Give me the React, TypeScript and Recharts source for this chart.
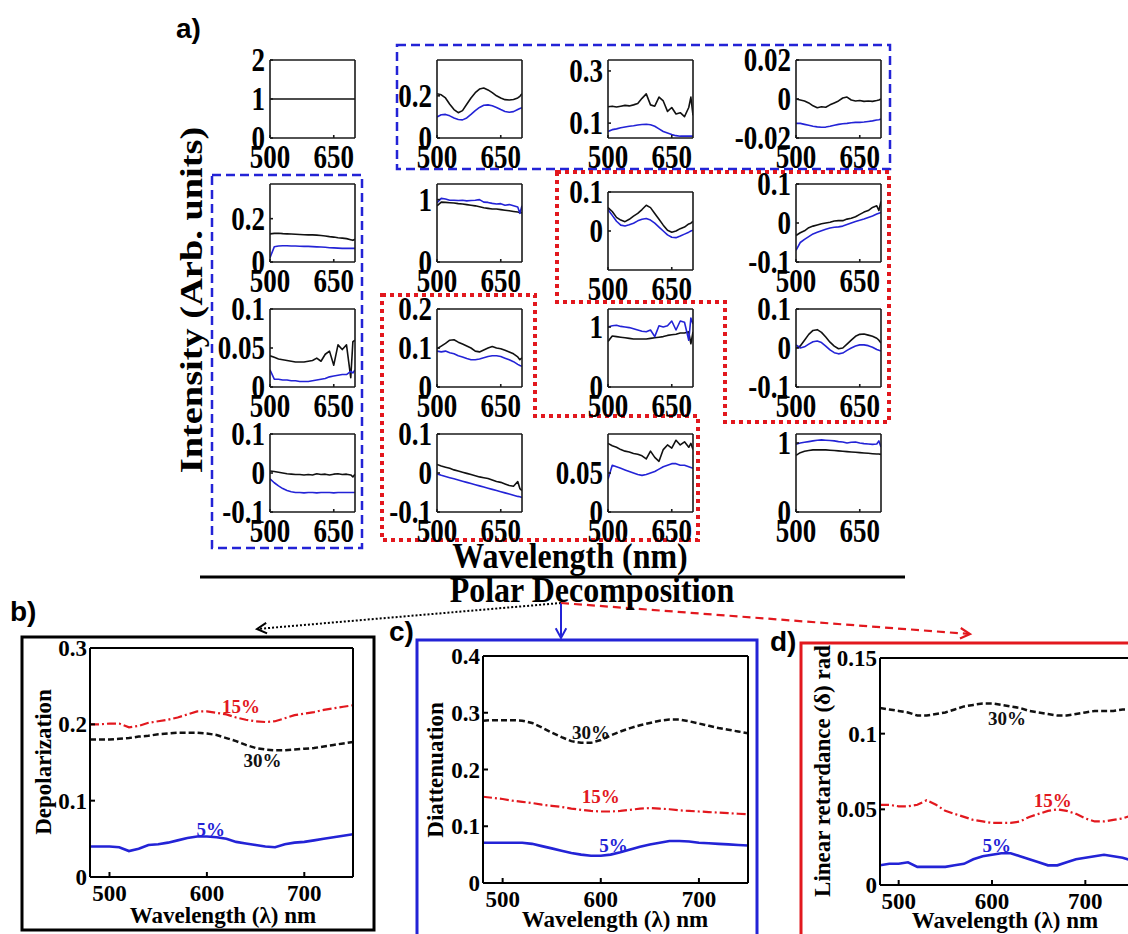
import React from 'react';
import { LineChart, Line, XAxis, YAxis, ReferenceDot } from 'recharts';

const SERIF = '"Liberation Serif", "Times New Roman", serif';
const SANS = '"Liberation Sans", Arial, sans-serif';
const INK = '#111';
const BLUE = '#2323d6';
const RED = '#e2181e';

// ---- panel a) Mueller matrix elements vs wavelength (K = black trace, B = blue trace) ----
const WL_A = [500, 510, 520, 530, 540, 550, 560, 570, 580, 590, 600, 610, 620, 630, 640, 650, 660, 670, 680, 690, 695, 700];
const TICKS_A_X = [500, 650];

const M11_K = [1, 1, 1, 1, 1, 1, 1, 1, 1, 1, 1, 1, 1, 1, 1, 1, 1, 1, 1, 1, 1, 1];
const M12_K = [0.21, 0.205, 0.19, 0.16, 0.135, 0.12, 0.13, 0.16, 0.19, 0.215, 0.232, 0.237, 0.228, 0.215, 0.2, 0.19, 0.182, 0.18, 0.183, 0.19, 0.198, 0.21];
const M12_B = [0.1, 0.11, 0.112, 0.105, 0.095, 0.088, 0.086, 0.095, 0.112, 0.13, 0.145, 0.155, 0.157, 0.153, 0.145, 0.135, 0.126, 0.122, 0.125, 0.135, 0.14, 0.144];
const M13_K = [0.163, 0.165, 0.162, 0.165, 0.168, 0.166, 0.17, 0.175, 0.195, 0.212, 0.17, 0.165, 0.2, 0.185, 0.145, 0.16, 0.135, 0.14, 0.125, 0.16, 0.2, 0.13];
const M13_B = [0.068, 0.075, 0.078, 0.082, 0.085, 0.088, 0.09, 0.093, 0.095, 0.096, 0.094, 0.088, 0.078, 0.068, 0.062, 0.056, 0.052, 0.05, 0.05, 0.05, 0.05, 0.05];
const M14_K = [0, -0.0005, -0.001, -0.002, -0.0035, -0.0045, -0.004, -0.0042, -0.003, -0.002, -0.001, 0.0005, 0.001, -0.0005, -0.001, -0.0008, -0.0012, -0.001, -0.0012, -0.0008, -0.0005, 0];
const M14_B = [-0.0125, -0.0125, -0.013, -0.0135, -0.014, -0.0143, -0.0145, -0.0144, -0.014, -0.0135, -0.013, -0.0127, -0.0125, -0.0122, -0.012, -0.012, -0.0118, -0.0115, -0.0112, -0.0108, -0.0106, -0.0103];

const M21_K = [0.13, 0.132, 0.133, 0.131, 0.13, 0.129, 0.128, 0.127, 0.126, 0.125, 0.125, 0.124, 0.122, 0.12, 0.117, 0.115, 0.112, 0.11, 0.108, 0.103, 0.1, 0.105];
const M21_B = [0.02, 0.07, 0.074, 0.075, 0.075, 0.074, 0.074, 0.073, 0.072, 0.072, 0.071, 0.07, 0.069, 0.068, 0.066, 0.065, 0.064, 0.063, 0.063, 0.063, 0.063, 0.063];
const M22_K = [0.9, 0.96, 0.955, 0.95, 0.945, 0.935, 0.93, 0.92, 0.91, 0.9, 0.885, 0.87, 0.86, 0.85, 0.85, 0.84, 0.83, 0.82, 0.81, 0.8, 0.79, 0.79];
const M22_B = [0.95, 1.02, 1.01, 0.99, 0.99, 0.985, 0.99, 0.98, 0.985, 0.99, 1.0, 0.96, 0.955, 0.94, 0.93, 0.935, 0.91, 0.92, 0.9, 0.88, 0.78, 0.9];
const M23_K = [0.06, 0.05, 0.035, 0.028, 0.024, 0.03, 0.038, 0.045, 0.055, 0.066, 0.06, 0.045, 0.03, 0.015, 0.002, -0.003, 0, 0.006, 0.01, 0.018, 0.02, 0.025];
const M23_B = [0.055, 0.04, 0.025, 0.015, 0.013, 0.016, 0.02, 0.026, 0.03, 0.032, 0.028, 0.02, 0.01, 0, -0.01, -0.016, -0.017, -0.013, -0.008, -0.003, 0, 0.002];
const M24_K = [-0.032, -0.025, -0.02, -0.012, -0.008, -0.005, -0.002, 0, 0.002, 0.005, 0.006, 0.006, 0.01, 0.012, 0.016, 0.022, 0.028, 0.032, 0.04, 0.044, 0.032, 0.055];
const M24_B = [-0.07, -0.05, -0.042, -0.035, -0.028, -0.024, -0.02, -0.016, -0.013, -0.011, -0.01, -0.008, -0.004, 0, 0.004, 0.007, 0.01, 0.014, 0.018, 0.023, 0.025, 0.027];

const M31_K = [0.04, 0.038, 0.036, 0.035, 0.034, 0.033, 0.032, 0.032, 0.032, 0.033, 0.034, 0.037, 0.033, 0.042, 0.046, 0.028, 0.054, 0.048, 0.054, 0.012, 0.058, 0.06];
const M31_B = [0.022, 0.01, 0.01, 0.009, 0.009, 0.008, 0.008, 0.007, 0.007, 0.007, 0.008, 0.009, 0.01, 0.011, 0.013, 0.014, 0.015, 0.016, 0.016, 0.02, 0.018, 0.022];
const M32_K = [0.098, 0.105, 0.112, 0.12, 0.121, 0.115, 0.11, 0.105, 0.1, 0.092, 0.09, 0.095, 0.1, 0.104, 0.1, 0.098, 0.094, 0.09, 0.085, 0.077, 0.07, 0.075];
const M32_B = [0.092, 0.09, 0.092, 0.088, 0.085, 0.08, 0.077, 0.073, 0.07, 0.07, 0.072, 0.075, 0.078, 0.08, 0.08, 0.078, 0.074, 0.07, 0.065, 0.058, 0.055, 0.053];
const M33_K = [0.76, 0.85, 0.84, 0.83, 0.82, 0.81, 0.8, 0.8, 0.8, 0.8, 0.81, 0.82, 0.83, 0.84, 0.86, 0.87, 0.88, 0.9, 0.9, 0.92, 0.72, 0.92];
const M33_B = [1.0, 1.02, 1.03, 1.01, 1.0, 0.99, 0.97, 0.95, 0.93, 0.92, 0.95, 0.84, 1.02, 1.0, 1.02, 1.1, 0.95, 1.1, 1.08, 0.78, 1.15, 1.05];
const M34_K = [0, 0.005, 0.02, 0.035, 0.045, 0.047, 0.04, 0.028, 0.015, 0.005, -0.002, 0, 0.01, 0.02, 0.03, 0.035, 0.036, 0.033, 0.03, 0.025, 0.02, 0.013];
const M34_B = [0.008, 0, 0.003, 0.01, 0.016, 0.018, 0.014, 0.005, -0.005, -0.012, -0.015, -0.013, -0.006, 0, 0.005, 0.008, 0.008, 0.006, 0.002, -0.004, -0.006, -0.008];

const M41_K = [0.005, 0.004, 0.002, 0, -0.002, -0.003, -0.004, -0.004, -0.005, -0.004, -0.005, -0.002, -0.004, -0.003, -0.005, -0.003, -0.002, -0.004, -0.003, -0.005, -0.01, -0.003];
const M41_B = [-0.015, -0.025, -0.033, -0.04, -0.045, -0.048, -0.05, -0.05, -0.051, -0.05, -0.05, -0.051, -0.05, -0.05, -0.05, -0.051, -0.05, -0.05, -0.05, -0.05, -0.05, -0.05];
const M42_K = [0.022, 0.018, 0.015, 0.012, 0.008, 0.005, 0.002, -0.001, -0.004, -0.007, -0.01, -0.012, -0.014, -0.018, -0.022, -0.024, -0.028, -0.032, -0.034, -0.022, -0.04, -0.045];
const M42_B = [-0.002, -0.006, -0.009, -0.012, -0.015, -0.018, -0.021, -0.024, -0.027, -0.03, -0.033, -0.036, -0.039, -0.042, -0.045, -0.048, -0.051, -0.054, -0.057, -0.06, -0.061, -0.063];
const M43_K = [0.088, 0.085, 0.083, 0.08, 0.078, 0.077, 0.075, 0.074, 0.072, 0.068, 0.078, 0.07, 0.065, 0.08, 0.086, 0.082, 0.092, 0.086, 0.09, 0.083, 0.088, 0.08];
const M43_B = [0.042, 0.06, 0.058, 0.056, 0.054, 0.052, 0.05, 0.048, 0.047, 0.048, 0.05, 0.052, 0.055, 0.058, 0.06, 0.062, 0.062, 0.06, 0.06, 0.058, 0.057, 0.056];
const M44_K = [0.82, 0.86, 0.88, 0.89, 0.9, 0.9, 0.9, 0.9, 0.895, 0.89, 0.885, 0.88, 0.875, 0.87, 0.865, 0.86, 0.855, 0.85, 0.845, 0.84, 0.84, 0.835];
const M44_B = [0.98, 1.0, 1.01, 1.02, 1.03, 1.04, 1.045, 1.04, 1.035, 1.03, 1.02, 1.015, 1.0, 1.01, 1.015, 1.0, 0.99, 0.985, 0.98, 0.985, 1.03, 0.94];

// ---- panels b) c) d): polar decomposition for 5 / 15 / 30 % ----
const WL_B = [480, 490, 500, 510, 520, 530, 540, 550, 560, 570, 580, 590, 600, 610, 620, 630, 640, 650, 660, 670, 680, 690, 700, 710, 720, 730, 740, 750];
const TICKS_B_X = [500, 600, 700];

const DEP_30 = [0.18, 0.18, 0.18, 0.181, 0.182, 0.184, 0.185, 0.187, 0.188, 0.189, 0.189, 0.189, 0.188, 0.186, 0.182, 0.178, 0.173, 0.169, 0.167, 0.166, 0.166, 0.167, 0.168, 0.169, 0.171, 0.173, 0.175, 0.177];
const DEP_15 = [0.2, 0.2, 0.201, 0.201, 0.196, 0.198, 0.202, 0.204, 0.206, 0.209, 0.213, 0.217, 0.217, 0.215, 0.213, 0.209, 0.206, 0.204, 0.203, 0.204, 0.208, 0.212, 0.214, 0.216, 0.219, 0.221, 0.223, 0.225];
const DEP_5 = [0.04, 0.04, 0.04, 0.039, 0.034, 0.037, 0.042, 0.043, 0.045, 0.048, 0.051, 0.053, 0.053, 0.052, 0.05, 0.046, 0.044, 0.042, 0.04, 0.039, 0.043, 0.045, 0.046, 0.048, 0.05, 0.052, 0.054, 0.056];

const DIA_30 = [0.286, 0.287, 0.287, 0.287, 0.286, 0.282, 0.274, 0.265, 0.257, 0.25, 0.247, 0.247, 0.252, 0.26, 0.267, 0.273, 0.278, 0.282, 0.286, 0.288, 0.288, 0.285, 0.281, 0.277, 0.273, 0.27, 0.267, 0.264];
const DIA_15 = [0.152, 0.15, 0.148, 0.145, 0.143, 0.141, 0.138, 0.136, 0.134, 0.131, 0.129, 0.127, 0.126, 0.126, 0.127, 0.129, 0.131, 0.132, 0.131, 0.13, 0.128, 0.127, 0.126, 0.125, 0.124, 0.123, 0.122, 0.121];
const DIA_5 = [0.071, 0.071, 0.071, 0.071, 0.071, 0.069, 0.065, 0.061, 0.057, 0.053, 0.05, 0.048, 0.048, 0.05, 0.054, 0.059, 0.064, 0.068, 0.071, 0.074, 0.074, 0.073, 0.071, 0.07, 0.069, 0.068, 0.067, 0.066];

const RET_30 = [0.117, 0.116, 0.115, 0.114, 0.112, 0.112, 0.113, 0.114, 0.116, 0.118, 0.119, 0.12, 0.12, 0.119, 0.118, 0.117, 0.115, 0.114, 0.113, 0.112, 0.112, 0.113, 0.114, 0.115, 0.115, 0.115, 0.116, 0.116];
const RET_15 = [0.053, 0.053, 0.052, 0.052, 0.053, 0.056, 0.053, 0.049, 0.047, 0.045, 0.043, 0.042, 0.041, 0.041, 0.041, 0.042, 0.045, 0.047, 0.049, 0.05, 0.049, 0.047, 0.044, 0.042, 0.042, 0.043, 0.044, 0.046];
const RET_5 = [0.013, 0.014, 0.014, 0.015, 0.012, 0.012, 0.012, 0.012, 0.013, 0.014, 0.017, 0.019, 0.02, 0.021, 0.021, 0.019, 0.017, 0.015, 0.013, 0.013, 0.015, 0.017, 0.018, 0.019, 0.02, 0.019, 0.018, 0.016];

// grid of small plots: [black, blue, y domain, y ticks]
const GRID: [number[], number[] | null, [number, number], number[]][][] = [
  [
    [M11_K, null, [0, 2], [0, 1, 2]],
    [M12_K, M12_B, [0, 0.37], [0, 0.2]],
    [M13_K, M13_B, [0.043, 0.342], [0.1, 0.3]],
    [M14_K, M14_B, [-0.02, 0.02], [-0.02, 0, 0.02]],
  ],
  [
    [M21_K, M21_B, [0, 0.36], [0, 0.2]],
    [M22_K, M22_B, [0, 1.25], [0, 1]],
    [M23_K, M23_B, [-0.1, 0.1], [0, 0.1]],
    [M24_K, M24_B, [-0.1, 0.1], [-0.1, 0, 0.1]],
  ],
  [
    [M31_K, M31_B, [0, 0.1], [0, 0.05, 0.1]],
    [M32_K, M32_B, [0, 0.2], [0, 0.1, 0.2]],
    [M33_K, M33_B, [0, 1.3], [0, 1]],
    [M34_K, M34_B, [-0.1, 0.1], [-0.1, 0, 0.1]],
  ],
  [
    [M41_K, M41_B, [-0.1, 0.1], [-0.1, 0, 0.1]],
    [M42_K, M42_B, [-0.1, 0.1], [-0.1, 0, 0.1]],
    [M43_K, M43_B, [0, 0.1], [0, 0.05]],
    [M44_K, M44_B, [0, 1.13], [0, 1]],
  ],
];

// plot-area placement of the grid
const COL_X = [270, 437, 608, 796];
const ROW_Y = [60, 184, 309, 434];
const SW = 85;
const SH = 78;
const SYW = 70;
const SXH = 40;
const SMT = 14;

function SmallYTick({ x, y, payload }: any) {
  return (
    <text transform={`translate(${x},${y}) scale(1,1.25)`} textAnchor="end" dy={9}
      fontFamily={SERIF} fontWeight={700} fontSize={27} fill="#000">
      {String(payload.value)}
    </text>
  );
}

function SmallXTick({ x, y, payload }: any) {
  return (
    <text transform={`translate(${x},${y}) scale(1,1.25)`} textAnchor="middle" dy={24}
      fontFamily={SERIF} fontWeight={700} fontSize={27} fill="#000">
      {String(payload.value)}
    </text>
  );
}

function SmallPlot({ left, top, black, blue, domain, ticks }: {
  left: number; top: number; black: number[]; blue: number[] | null; domain: [number, number]; ticks: number[];
}) {
  const data = WL_A.map((wl, i) => ({ wl, k: black[i], b: blue ? blue[i] : null }));
  const axis = { stroke: '#1a1a1a', strokeWidth: 1.6 };
  return (
    <div style={{ position: 'absolute', left: left - SYW, top: top - SMT - 1 }}>
      <LineChart width={SYW + SW + 8} height={SMT + 1 + SH + SXH} data={data}
        margin={{ top: SMT, right: 7, bottom: 0, left: 0 }}>
        <XAxis xAxisId="b" dataKey="wl" type="number" domain={[500, 700]} ticks={TICKS_A_X}
          height={SXH} axisLine={axis} tickLine={axis} tickSize={-3} tickMargin={3}
          tick={(p: any) => <SmallXTick {...p} />} allowDataOverflow />
        <XAxis xAxisId="t" orientation="top" dataKey="wl" type="number" domain={[500, 700]}
          ticks={TICKS_A_X} height={1} axisLine={axis} tickLine={axis} tickSize={-3} tick={false} allowDataOverflow />
        <YAxis yAxisId="l" type="number" domain={domain} ticks={ticks} width={SYW}
          axisLine={axis} tickLine={axis} tickSize={-3} tickMargin={8}
          tick={(p: any) => <SmallYTick {...p} />} allowDataOverflow />
        <YAxis yAxisId="r" orientation="right" type="number" domain={domain} ticks={ticks} width={1}
          axisLine={axis} tickLine={axis} tickSize={-3} tick={false} allowDataOverflow />
        <Line xAxisId="b" yAxisId="l" dataKey="k" stroke={INK} strokeWidth={1.6} dot={false}
          isAnimationActive={false} strokeLinejoin="round" />
        {blue && (
          <Line xAxisId="b" yAxisId="l" dataKey="b" stroke={BLUE} strokeWidth={1.6} dot={false}
            isAnimationActive={false} strokeLinejoin="round" />
        )}
      </LineChart>
    </div>
  );
}

function BigYTick({ x, y, payload }: any) {
  return (
    <text x={x} y={y} dy={8} textAnchor="end" fontFamily={SERIF} fontWeight={700} fontSize={23} fill="#000">
      {String(payload.value)}
    </text>
  );
}

function BigXTick({ x, y, payload }: any) {
  return (
    <text x={x} y={y} dy={24} textAnchor="middle" fontFamily={SERIF} fontWeight={700} fontSize={23} fill="#000">
      {String(payload.value)}
    </text>
  );
}

type Tag = { x: number; y: number; text: string; color: string };

function BigPlot({ left, top, w, h, domain, ticks, s30, s15, s5, tags }: {
  left: number; top: number; w: number; h: number; domain: [number, number]; ticks: number[];
  s30: number[]; s15: number[]; s5: number[]; tags: Tag[];
}) {
  const data = WL_B.map((wl, i) => ({ wl, s30: s30[i], s15: s15[i], s5: s5[i] }));
  const YW = 60;
  const XH = 40;
  const MT = 14;
  const axis = { stroke: '#000', strokeWidth: 2 };
  return (
    <div style={{ position: 'absolute', left: left - YW, top: top - MT - 1 }}>
      <LineChart width={YW + w + 9} height={MT + 1 + h + XH} data={data}
        margin={{ top: MT, right: 8, bottom: 0, left: 0 }}>
        <XAxis xAxisId="b" dataKey="wl" type="number" domain={[480, 750]} ticks={TICKS_B_X}
          height={XH} axisLine={axis} tickLine={axis} tickSize={-5} tickMargin={5}
          tick={(p: any) => <BigXTick {...p} />} allowDataOverflow />
        <XAxis xAxisId="t" orientation="top" dataKey="wl" type="number" domain={[480, 750]}
          ticks={TICKS_B_X} height={1} axisLine={axis} tickLine={axis} tickSize={-5} tick={false} allowDataOverflow />
        <YAxis yAxisId="l" type="number" domain={domain} ticks={ticks} width={YW}
          axisLine={axis} tickLine={axis} tickSize={-5} tickMargin={8}
          tick={(p: any) => <BigYTick {...p} />} allowDataOverflow />
        <YAxis yAxisId="r" orientation="right" type="number" domain={domain} ticks={ticks} width={1}
          axisLine={axis} tickLine={axis} tickSize={-5} tick={false} allowDataOverflow />
        <Line xAxisId="b" yAxisId="l" dataKey="s30" stroke={INK} strokeWidth={2.5} strokeDasharray="6 3"
          dot={false} isAnimationActive={false} />
        <Line xAxisId="b" yAxisId="l" dataKey="s15" stroke={RED} strokeWidth={2.2} strokeDasharray="9 3 2 3"
          dot={false} isAnimationActive={false} />
        <Line xAxisId="b" yAxisId="l" dataKey="s5" stroke={BLUE} strokeWidth={2.6}
          dot={false} isAnimationActive={false} />
        {tags.map((t) => (
          <ReferenceDot key={t.text} xAxisId="b" yAxisId="l" x={t.x} y={t.y} r={0} fill="none" stroke="none"
            label={{ value: t.text, position: 'center', fill: t.color, fontSize: 19, fontWeight: 700, fontFamily: SERIF }} />
        ))}
      </LineChart>
    </div>
  );
}

function chevron(x1: number, y1: number, x2: number, y2: number, len = 11) {
  const a = Math.atan2(y2 - y1, x2 - x1);
  const p = (d: number) => `${x2 - len * Math.cos(a + d)},${y2 - len * Math.sin(a + d)}`;
  return `${p(0.5)} ${x2},${y2} ${p(-0.5)}`;
}

function Overlay() {
  const ox = 561;
  const oy = 603;
  const bold = { fontFamily: SERIF, fontWeight: 700, fill: '#000' } as const;
  return (
    <svg width={1128} height={934} style={{ position: 'absolute', left: 0, top: 0 }}>
      <g fill="none">
        <rect x={397} y={45} width={493} height={124} stroke={BLUE} strokeWidth={2.5} strokeDasharray="9 5" />
        <rect x={212} y={175} width={150} height={373} stroke={BLUE} strokeWidth={2.5} strokeDasharray="9 5" />
        <polygon points="557,172 889,172 889,422 725,422 725,302 557,302" stroke={RED} strokeWidth={4} strokeDasharray="4 4" />
        <polygon points="382,295 535,295 535,416 698,416 698,540 382,540" stroke={RED} strokeWidth={4} strokeDasharray="4 4" />
        <line x1={200} y1={577} x2={905} y2={577} stroke="#000" strokeWidth={3} />

        <line x1={ox} y1={oy} x2={257} y2={629} stroke="#000" strokeWidth={2} strokeDasharray="2 2" />
        <polyline points={chevron(ox, oy, 257, 629)} stroke="#000" strokeWidth={2} />
        <line x1={ox} y1={oy} x2={ox} y2={638} stroke={BLUE} strokeWidth={2} />
        <polyline points={chevron(ox, oy, ox, 638)} stroke={BLUE} strokeWidth={2} />
        <line x1={ox} y1={oy} x2={970} y2={634} stroke={RED} strokeWidth={2.2} strokeDasharray="8 5" />
        <polyline points={chevron(ox, oy, 970, 634)} stroke={RED} strokeWidth={2.2} />

        <rect x={22} y={637} width={352} height={293} stroke="#000" strokeWidth={3} />
        <rect x={417} y={640} width={340} height={320} stroke={BLUE} strokeWidth={3} />
        <rect x={801} y={643} width={400} height={320} stroke={RED} strokeWidth={3} />
      </g>

      <text x={176} y={38} fontFamily={SANS} fontWeight={700} fontSize={28}>a)</text>
      <text x={10} y={621} fontFamily={SANS} fontWeight={700} fontSize={28}>b)</text>
      <text x={389} y={641} fontFamily={SANS} fontWeight={700} fontSize={28}>c)</text>
      <text x={770} y={651} fontFamily={SANS} fontWeight={700} fontSize={28}>d)</text>

      <text transform="translate(192,300) rotate(-90) scale(1.2,1)" textAnchor="middle" dominantBaseline="central"
        fontSize={32} {...bold}>Intensity (Arb. units)</text>
      <text transform="translate(570,568) scale(1,1.12)" textAnchor="middle" fontSize={32} {...bold}>Wavelength (nm)</text>
      <text transform="translate(592,602) scale(1,1.15)" textAnchor="middle" fontSize={32} {...bold}>Polar Decomposition</text>

      <text transform="translate(43,762) rotate(-90)" textAnchor="middle" dominantBaseline="central" fontSize={23} {...bold}>Depolarization</text>
      <text x={223} y={923} textAnchor="middle" fontSize={23} {...bold}>Wavelength (λ) nm</text>
      <text transform="translate(435,770) rotate(-90)" textAnchor="middle" dominantBaseline="central" fontSize={23} {...bold}>Diattenuation</text>
      <text x={615} y={927} textAnchor="middle" fontSize={23} {...bold}>Wavelength (λ) nm</text>
      <text transform="translate(822,771) rotate(-90)" textAnchor="middle" dominantBaseline="central" fontSize={23} {...bold}>Linear retardance (δ) rad</text>
      <text x={1005} y={928} textAnchor="middle" fontSize={23} {...bold}>Wavelength (λ) nm</text>
    </svg>
  );
}

export default function App() {
  return (
    <div style={{ position: 'absolute', left: 0, top: 0, width: 1128, height: 934, overflow: 'hidden', background: '#fff' }}>
      <Overlay />
      {GRID.map((row, r) =>
        row.map(([k, b, domain, ticks], c) => (
          <SmallPlot key={`${r}-${c}`} left={COL_X[c]} top={ROW_Y[r] + (r === 1 && c === 2 ? 8 : 0)}
            black={k} blue={b} domain={domain} ticks={ticks} />
        )),
      )}
      <BigPlot left={90} top={648} w={263} h={229} domain={[0, 0.3]} ticks={[0, 0.1, 0.2, 0.3]}
        s30={DEP_30} s15={DEP_15} s5={DEP_5}
        tags={[
          { x: 635, y: 0.224, text: '15%', color: RED },
          { x: 657, y: 0.153, text: '30%', color: INK },
          { x: 604, y: 0.063, text: '5%', color: BLUE },
        ]} />
      <BigPlot left={483} top={656} w={265} h={227} domain={[0, 0.4]} ticks={[0, 0.1, 0.2, 0.3, 0.4]}
        s30={DIA_30} s15={DIA_15} s5={DIA_5}
        tags={[
          { x: 590, y: 0.266, text: '30%', color: INK },
          { x: 600, y: 0.152, text: '15%', color: RED },
          { x: 613, y: 0.067, text: '5%', color: BLUE },
        ]} />
      <BigPlot left={880} top={658} w={252} h={227} domain={[0, 0.15]} ticks={[0, 0.05, 0.1, 0.15]}
        s30={RET_30} s15={RET_15} s5={RET_5}
        tags={[
          { x: 616, y: 0.11, text: '30%', color: INK },
          { x: 665, y: 0.056, text: '15%', color: RED },
          { x: 605, y: 0.026, text: '5%', color: BLUE },
        ]} />
    </div>
  );
}
